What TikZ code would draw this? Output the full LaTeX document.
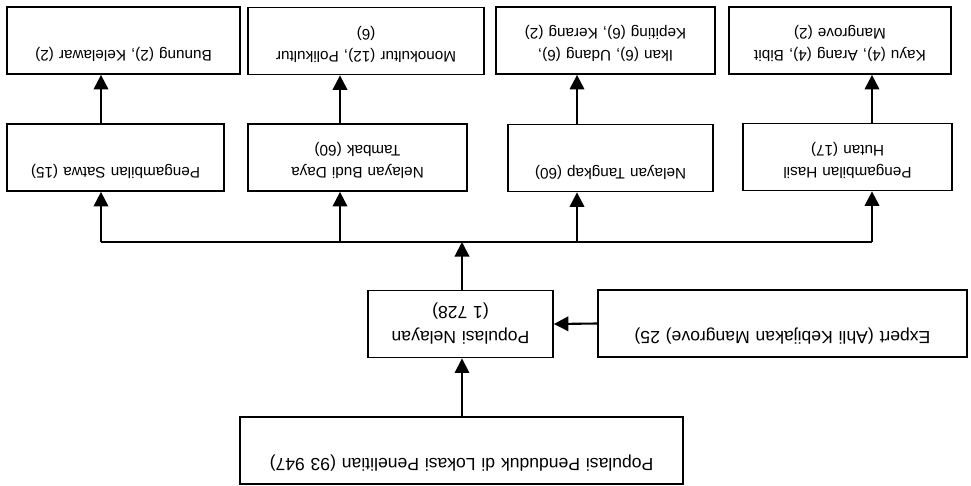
\documentclass[tikz,border=0pt]{standalone}
\usepackage{fontspec}
\setmainfont{Liberation Sans}
\usetikzlibrary{arrows.meta}
\tikzset{
  kbox/.style={rectangle, draw=black, line width=1pt, rotate=180, inner sep=0pt, align=center},
  kboxs/.style={kbox, text height=0.47cm, text depth=0.87cm, font=\fontsize{8.7}{12.3}\selectfont},
  kboxl/.style={kbox, text height=0.52cm, text depth=0.82cm, font=\fontsize{10}{14}\selectfont},
  kw/.style={draw=black, line width=1.2pt},
  ka/.style={kw, -{Triangle[length=2.9mm, width=2.9mm]}},
  kat/.style={draw=black, line width=0.6pt, -{Triangle[length=2.9mm, width=2.9mm]}}
}

\begin{document}
\begin{tikzpicture}[x=0.02cm, y=-0.02cm]
  \useasboundingbox (0,0) rectangle (971,485);
  % hasil (top row)
  \node[kboxs, text width=4.66cm] (bun) at (123.5,40.5) {Bunung (2), Kelelawar (2)};
  \node[kboxs, text width=4.72cm] (mon) at (366,41) {Monokultur (12), Polikultur\\ (6)};
  \node[kboxs, text width=4.38cm] (ika) at (605.5,40.5) {Ikan (6), Udang (6),\\ Kepiting (6), Kerang (2)};
  \node[kboxs, text width=4.44cm] (kay) at (840,40.5) {Kayu (4), Arang (4), Bibit\\ Mangrove (2)};
  % kelompok (second row)
  \node[kboxs, text width=4.34cm] (sat) at (115.5,157.5) {Pengambilan Satwa (15)};
  \node[kboxs, text width=4.38cm] (bud) at (357.5,157.5) {Nelayan Budi Daya\\ Tambak (60)};
  \node[kboxs, text width=4.10cm] (tan) at (610.5,158) {Nelayan Tangkap (60)};
  \node[kboxs, text width=4.18cm] (has) at (847.5,157) {Pengambilan Hasil\\ Hutan (17)};
  % populasi
  \node[kboxl, text width=3.70cm] (pop) at (460.5,324) {Populasi Nelayan\\ (1 728)};
  \node[kboxl, text width=7.38cm] (exp) at (782.5,323.5) {Expert (Ahli Kebijakan Mangrove) 25)};
  \node[kboxl, text width=8.86cm] (pen) at (461.5,450.5) {Populasi Penduduk di Lokasi Penelitian (93 947)};
  % bus
  \coordinate (c1) at (101,242);
  \coordinate (c2) at (340,242);
  \coordinate (c3) at (577,242);
  \coordinate (c4) at (872,242);
  \coordinate (hub) at (462,242);
  \draw[kw] (c1) -- (c4);
  \foreach \c/\a/\b in {c1/sat/bun, c2/bud/mon, c3/tan/ika, c4/has/kay} {
    \draw[ka] (\c) -- (\c |- \a.north);
    \draw[ka] (\c |- \a.south) -- (\c |- \b.north);
  }
  \draw[ka] (hub |- pop.south) -- (hub);
  \draw[ka] (exp.east) -- (pop.west);
  \draw[kat] (hub |- pen.south) -- (hub |- pop.north);
\end{tikzpicture}
\end{document}
